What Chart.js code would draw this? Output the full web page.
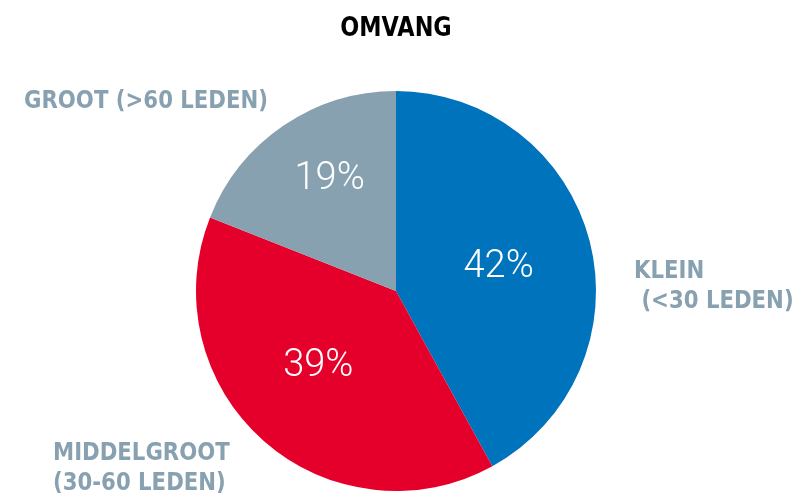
<!DOCTYPE html>
<html>
<head>
<meta charset="utf-8">
<script src="https://cdn.jsdelivr.net/npm/chart.js@4"></script>
<style>
  html, body { margin: 0; padding: 0; background: #fff; }
  #wrap { width: 796px; height: 493px; position: relative; }
</style>
</head>
<body>
<div id="wrap"><canvas id="omvangChart"></canvas></div>
<script>
const title = 'OMVANG';
const categories = [['KLEIN', ' (<30 LEDEN)'], ['MIDDELGROOT', '(30-60 LEDEN)'], ['GROOT (>60 LEDEN)']];
const shares = [42, 39, 19];
const colors = ['#0073bd', '#e4002b', '#87a1b0'];

const labelFont = '"DejaVu Sans", sans-serif';

// condensed bold text: regular glyphs squeezed horizontally
function narrowText(ctx, text, x, y, squeeze) {
    ctx.save();
    ctx.translate(x, y);
    ctx.scale(squeeze, 1);
    ctx.fillText(text, 0, 0);
    ctx.restore();
}

// percentages inside the slices, outer category labels and the title
const pieLabels = {
    id: 'pieLabels',
    afterDatasetsDraw(chart, args, opts) {
        const ctx = chart.ctx;
        const meta = chart.getDatasetMeta(0);
        ctx.save();
        ctx.textAlign = 'center';
        ctx.textBaseline = 'middle';

        ctx.font = '300 38px Roboto, sans-serif';
        ctx.fillStyle = '#ffffff';
        meta.data.forEach((arc, i) => {
            const mid = (arc.startAngle + arc.endAngle) / 2 + opts.turn[i];
            const r = arc.outerRadius * opts.radial[i];
            ctx.fillText(shares[i] + '%', arc.x + Math.cos(mid) * r, arc.y + Math.sin(mid) * r + 3);
        });

        ctx.textAlign = 'left';
        ctx.font = 'bold 25px ' + labelFont;
        ctx.fillStyle = '#87a1b0';
        categories.forEach((lines, i) => {
            const p = opts.spots[i];
            lines.forEach((line, j) => narrowText(ctx, line, p.x, p.y + j * 30, 0.85));
        });

        ctx.textAlign = 'center';
        ctx.font = 'bold 26px ' + labelFont;
        ctx.fillStyle = '#000000';
        narrowText(ctx, title, chart.width / 2 - 2, 29, 0.86);
        ctx.restore();
    }
};

new Chart(document.getElementById('omvangChart').getContext('2d'), {
    type: 'pie',
    data: {
        labels: categories.map(c => c.join(' ')),
        datasets: [{
            data: shares,
            backgroundColor: colors,
            borderWidth: 0,
        }],
    },
    options: {
        responsive: true,
        maintainAspectRatio: false,
        animation: false,
        layout: { padding: { top: 91, bottom: 2, left: 196, right: 200 } },
        plugins: {
            legend: { display: false },
            tooltip: { enabled: false },
            pieLabels: {
                radial: [0.53, 0.53, 0.66],
                turn: [0, 0.1, 0.07],
                spots: [{ x: 634, y: 271 }, { x: 53, y: 453 }, { x: 24, y: 101 }],
            },
        },
    },
    plugins: [pieLabels],
});
</script>
</body>
</html>
